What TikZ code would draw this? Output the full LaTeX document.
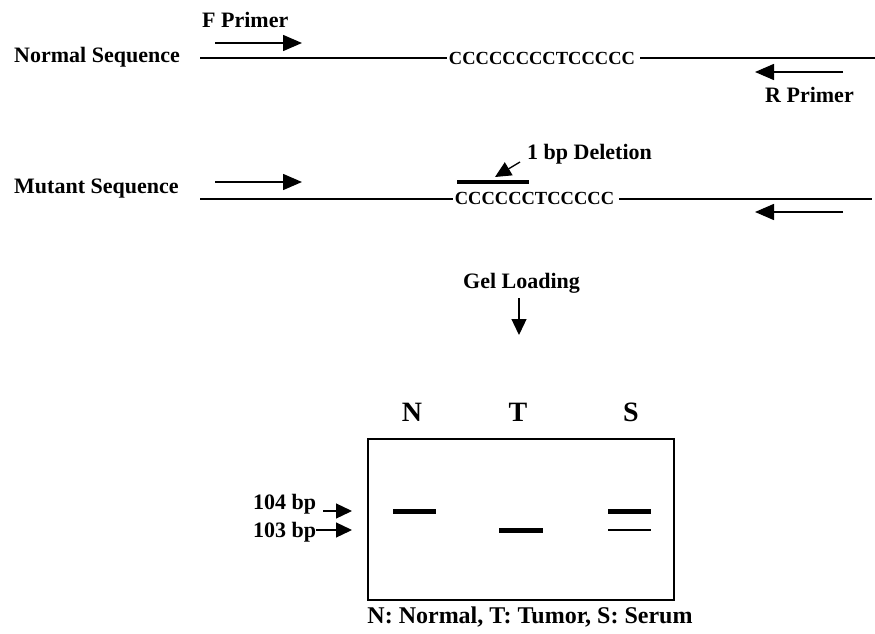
\documentclass[tikz,border=0pt]{standalone}
\usepackage{fontspec}
\setmainfont{Liberation Serif}
\usetikzlibrary{arrows.meta}

\begin{document}
\begin{tikzpicture}[x=1pt,y=-1pt,
    lbl/.style={font=\fontsize{22}{26}\selectfont\bfseries,inner sep=0pt},
    seq/.style={font=\fontsize{18.5}{22}\selectfont\bfseries,inner xsep=2pt,inner ysep=0pt},
    lane/.style={font=\fontsize{28}{32}\selectfont\bfseries,inner sep=0pt},
    primer/.style={line width=1.5pt,-{Triangle[length=19pt,width=16pt]}},
    pointer/.style={line width=1.3pt,-{Triangle[length=16pt,width=15pt]}},
    band/.style={line width=5pt},
    dna/.style={line width=2pt}]
    \useasboundingbox (0,0) rectangle (875,634);
    % normal sequence
    \node[lbl,anchor=base west] (normal) at (14,63) {Normal Sequence};
    \node[seq] (nseq) at (542,58.5) {CCCCCCCCTCCCCC};
    \coordinate (n0) at (200,58);
    \coordinate (n1) at (875,58);
    \draw[dna] (n0) -- (n0 -| nseq.west);
    \draw[dna] ([xshift=3pt]n1 -| nseq.east) -- (n1);
    \node[lbl,anchor=base west] (fprimer) at (202,28) {F Primer};
    \coordinate (f0) at (215,43);
    \coordinate (f1) at (302,43);
    \draw[primer] (f0) -- (f1);
    \node[lbl,anchor=base west] (rprimer) at (765,102) {R Primer};
    \coordinate (r0) at (843,72);
    \coordinate (r1) at (755,72);
    \draw[primer] (r0) -- (r1);
    % mutant sequence
    \node[lbl,anchor=base west] (mutant) at (14,193) {Mutant Sequence};
    \node[seq] (mseq) at (534.5,198.5) {CCCCCCTCCCCC};
    \coordinate (m0) at (200,199);
    \coordinate (m1) at (872,199);
    \draw[line width=1.2pt] (m0) -- (m0 -| mseq.west);
    \draw[line width=1.2pt] ([xshift=3pt]m1 -| mseq.east) -- (m1);
    \coordinate (mf0) at (215,182);
    \coordinate (mf1) at (302,182);
    \draw[primer] (mf0) -- (mf1);
    \coordinate (mr0) at (843,212);
    \coordinate (mr1) at (755,212);
    \draw[primer] (mr0) -- (mr1);
    \coordinate (d0) at (457,182);
    \coordinate (d1) at (529,182);
    \draw[line width=4.5pt] (d0) -- (d1);
    \node[lbl,anchor=base west] (del) at (527,159) {1 bp Deletion};
    \coordinate (dtip) at (495,177);
    \draw[pointer] ([xshift=-7pt,yshift=-3pt]del.base west) -- (dtip);
    % loading
    \node[lbl,anchor=base west] (gel) at (463,288) {Gel Loading};
    \coordinate (g0) at (519,298);
    \coordinate (g1) at (519,335);
    \draw[pointer] (g0) -- (g1);
    % gel
    \node[draw,line width=1.5pt,minimum width=306pt,minimum height=161pt,inner sep=0pt,anchor=north west] (box) at (367,438) {};
    \node[lane] (nlane) at (412,412.5) {N};
    \node[lane] (tlane) at (518,412.5) {T};
    \node[lane] (slane) at (631,412.5) {S};
    \draw[band] (393,511) -- (436,511);
    \draw[band] (499,530) -- (543,530);
    \draw[band] (608,511) -- (651,511);
    \draw[line width=1.3pt] (608,530) -- (651,530);
    \node[lbl,anchor=base west] (m104) at (253,509) {104 bp};
    \node[lbl,anchor=base west] (m103) at (253,537) {103 bp};
    \coordinate (a104) at (352,511);
    \coordinate (a103) at (352,530);
    \draw[pointer] ([xshift=7pt]m104.east |- a104) -- (a104);
    \draw[pointer] (m103.east |- a103) -- (a103);
    \node[font=\fontsize{24}{28}\selectfont\bfseries,inner sep=0pt,anchor=base] (caption) at (530,623) {N: Normal, T: Tumor, S: Serum};
\end{tikzpicture}
\end{document}
